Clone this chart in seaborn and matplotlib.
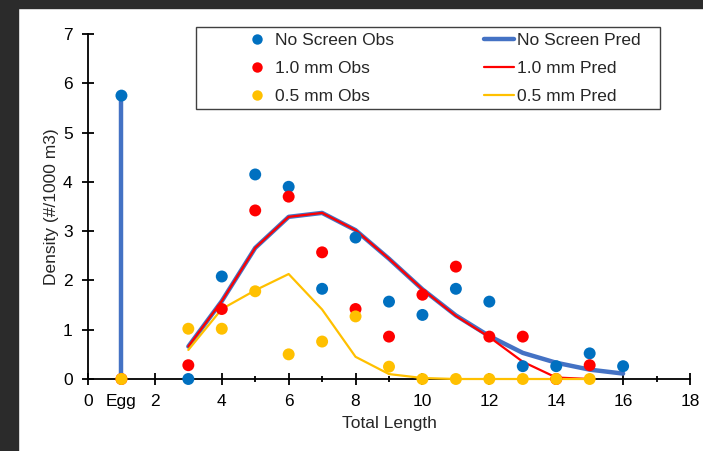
import matplotlib
matplotlib.use("Agg")
import matplotlib.pyplot as plt
import seaborn as sns
import pandas as pd
import numpy as np
from matplotlib.ticker import MultipleLocator, FixedLocator, FixedFormatter
from matplotlib.lines import Line2D
from matplotlib.patches import Rectangle

# ---------------- data ----------------
obs_x = [1, 3, 4, 5, 6, 7, 8, 9, 10, 11, 12, 13, 14, 15, 16]
no_screen_obs = [5.75, 0.0, 2.08, 4.15, 3.90, 1.83, 2.87, 1.57, 1.30, 1.83, 1.57, 0.26, 0.26, 0.52, 0.26]
obs_x_10 = [1, 3, 4, 5, 6, 7, 8, 9, 10, 11, 12, 13, 14, 15]
mm10_obs = [0.0, 0.28, 1.42, 3.42, 3.70, 2.57, 1.42, 0.86, 1.71, 2.28, 0.86, 0.86, 0.0, 0.28]
obs_x_05 = [1, 3, 4, 5, 6, 7, 8, 9, 10, 11, 12, 13, 14, 15]
mm05_obs = [0.0, 1.02, 1.02, 1.78, 0.50, 0.76, 1.27, 0.25, 0.0, 0.0, 0.0, 0.0, 0.0, 0.0]

pred_x_ns = [3, 4, 5, 6, 7, 8, 9, 10, 11, 12, 13, 14, 15, 16]
no_screen_pred = [0.66, 1.58, 2.66, 3.29, 3.37, 3.02, 2.44, 1.82, 1.29, 0.87, 0.53, 0.33, 0.19, 0.11]
pred_x_10 = [3, 4, 5, 6, 7, 8, 9, 10, 11, 12, 13, 14, 15]
mm10_pred = [0.66, 1.58, 2.66, 3.29, 3.37, 3.02, 2.44, 1.82, 1.28, 0.85, 0.35, 0.03, 0.0]
pred_x_05 = [3, 4, 5, 6, 7, 8, 9, 10, 11, 12, 13, 14, 15]
mm05_pred = [0.59, 1.42, 1.80, 2.13, 1.41, 0.45, 0.10, 0.02, 0.0, 0.0, 0.0, 0.0, 0.0]

egg_x = 1
egg_pred = 5.75

x_tick_pos = [0, 1, 2, 4, 6, 8, 10, 12, 14, 16, 18]
x_tick_labels = ["0", "Egg", "2", "4", "6", "8", "10", "12", "14", "16", "18"]

C_BLUE_OBS = "#0070C0"
C_BLUE_PRED = "#4472C4"
C_RED = "#FF0000"
C_YEL = "#FFC000"

FS = 12.5

# ---------------- style ----------------
sns.set_style("white")
plt.rcParams["font.family"] = ["Liberation Sans", "DejaVu Sans"]
plt.rcParams["font.size"] = FS

W, H = 703, 451
fig = plt.figure(figsize=(W/100, H/100), dpi=100)
ax = fig.add_axes([88/W, 1-379/H, 602/W, 345/H])

obs_df = pd.concat([
    pd.DataFrame({"x": obs_x, "y": no_screen_obs, "s": "No Screen Obs"}),
    pd.DataFrame({"x": obs_x_10, "y": mm10_obs, "s": "1.0 mm Obs"}),
    pd.DataFrame({"x": obs_x_05, "y": mm05_obs, "s": "0.5 mm Obs"}),
])
pred_df = pd.concat([
    pd.DataFrame({"x": pred_x_ns, "y": no_screen_pred, "s": "No Screen Pred"}),
    pd.DataFrame({"x": pred_x_10, "y": mm10_pred, "s": "1.0 mm Pred"}),
    pd.DataFrame({"x": pred_x_05, "y": mm05_pred, "s": "0.5 mm Pred"}),
])

# egg vertical predicted line
ax.vlines([egg_x], [0], [egg_pred], color=C_BLUE_PRED, lw=3.2, zorder=2)

sns.lineplot(data=pred_df, x="x", y="y", hue="s", size="s",
             hue_order=["No Screen Pred", "1.0 mm Pred", "0.5 mm Pred"],
             palette=[C_BLUE_PRED, C_RED, C_YEL],
             sizes={"No Screen Pred": 3.2, "1.0 mm Pred": 1.6, "0.5 mm Pred": 1.6},
             size_order=["No Screen Pred", "1.0 mm Pred", "0.5 mm Pred"],
             ax=ax, legend=False, zorder=3, clip_on=False, sort=False)

sns.scatterplot(data=obs_df, x="x", y="y", hue="s",
                hue_order=["No Screen Obs", "1.0 mm Obs", "0.5 mm Obs"],
                palette=[C_BLUE_OBS, C_RED, C_YEL], s=74, linewidth=0,
                ax=ax, legend=False, zorder=4, clip_on=False)

ax.set_xlim(0, 18)
ax.set_ylim(0, 7)

for side in ["top", "right"]:
    ax.spines[side].set_visible(False)
for side in ["left", "bottom"]:
    ax.spines[side].set_color("black")
    ax.spines[side].set_linewidth(1.3)
    ax.spines[side].set_zorder(2.5)

ax.xaxis.set_major_locator(FixedLocator(x_tick_pos))
ax.xaxis.set_major_formatter(FixedFormatter(x_tick_labels))
ax.xaxis.set_minor_locator(FixedLocator([3, 5, 7, 9, 11, 13, 15, 17]))
ax.yaxis.set_major_locator(MultipleLocator(1))
ax.tick_params(axis="both", which="major", direction="inout", length=8, width=1.3,
               colors="black", labelsize=FS, bottom=True, left=True)
ax.tick_params(axis="x", which="major", pad=7)
ax.tick_params(axis="y", which="major", pad=7)
ax.tick_params(axis="x", which="minor", direction="inout", length=5, width=1.3,
               colors="black", bottom=True)
ax.xaxis.get_major_ticks()[1].tick1line.set_markersize(5)

ax.set_xlabel("Total Length", fontsize=FS, labelpad=5)
ax.set_ylabel("Density (#/1000 m3)", fontsize=FS, labelpad=3)

# legend: frame drawn separately, entries placed explicitly
fig.patches.append(Rectangle((196/W, 1-109/H), 464/W, 82/H, transform=fig.transFigure,
                             fill=False, edgecolor="#404040", lw=1.0, zorder=5))
handles = [
    Line2D([], [], ls="none", marker="o", ms=7.5, mec="none", mfc=C_BLUE_OBS),
    Line2D([], [], ls="none", marker="o", ms=7.5, mec="none", mfc=C_RED),
    Line2D([], [], ls="none", marker="o", ms=7.5, mec="none", mfc=C_YEL),
    Line2D([], [], color=C_BLUE_PRED, lw=3.2),
    Line2D([], [], color=C_RED, lw=1.6),
    Line2D([], [], color=C_YEL, lw=1.6),
]
labels = ["No Screen Obs", "1.0 mm Obs", "0.5 mm Obs",
          "No Screen Pred", "1.0 mm Pred", "0.5 mm Pred"]
leg = fig.legend(handles, labels, ncol=2, loc="upper left",
                 bbox_to_anchor=(242/W, 1-33/H), bbox_transform=fig.transFigure,
                 borderaxespad=0, frameon=False, fontsize=FS,
                 handlelength=1.73, handletextpad=0.15, labelspacing=0.74,
                 borderpad=0, columnspacing=5.2)

# dark screenshot frame
fig.patches.append(Rectangle((0, 0), 18/W, 1, transform=fig.transFigure,
                             color="#2b2b2b", zorder=10))
fig.patches.append(Rectangle((0, 1-8/H), 1, 8/H, transform=fig.transFigure,
                             color="#2b2b2b", zorder=10))

fig.savefig("out.png", dpi=100)
